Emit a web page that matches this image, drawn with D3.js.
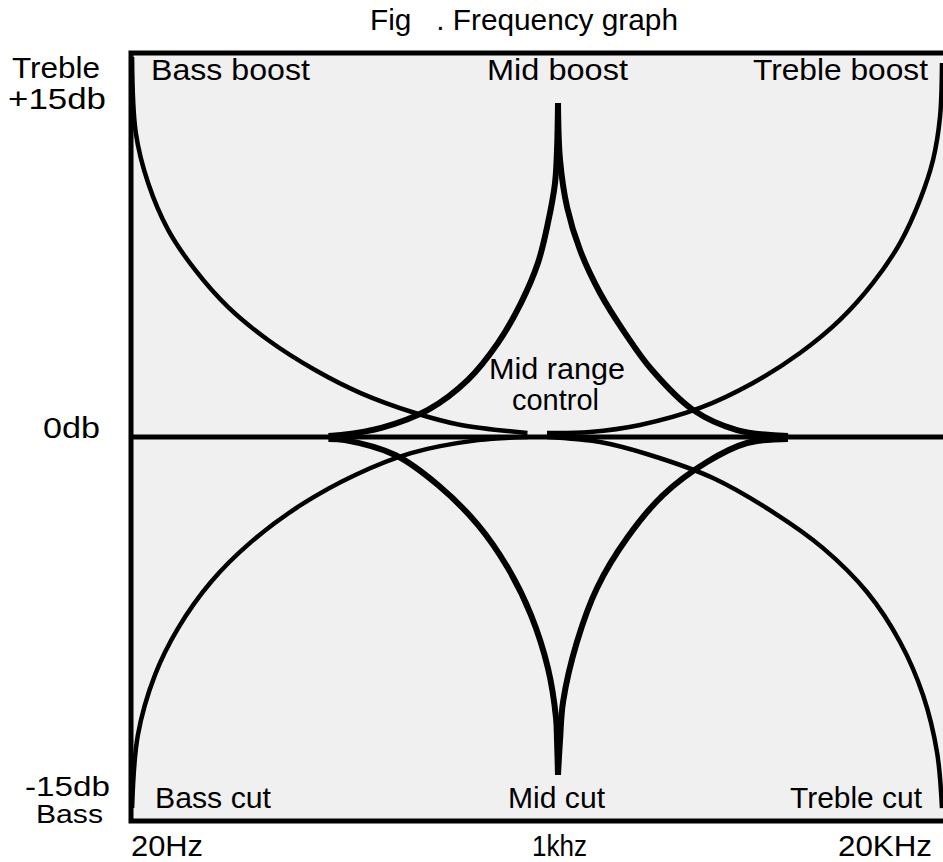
<!DOCTYPE html>
<html>
<head>
<meta charset="utf-8">
<script src="https://cdn.jsdelivr.net/npm/d3@7"></script>
<style>
  body { margin: 0; background: #fff; }
  text { font-family: "Liberation Sans", Arial, sans-serif; font-size: 29px; fill: #000; white-space: pre; }
</style>
</head>
<body>
<div id="chart"></div>
<script>
// axis ends / ticks
const freqTicks = [20, 1000, 20000];
const freqLabels = ["20Hz", "1khz", "20KHz"];

// curves: [frequency Hz, gain dB]
const bassBoost = [[20.2, 15.83], [20.9, 12.67], [23.4, 10.58], [28.1, 8.63], [36, 6.96], [48.6, 5.42],
  [70.2, 4.04], [108, 2.79], [164, 1.83], [270, 1.0], [411, 0.5], [756, 0.17]];
const bassCut = [[20.2, -15.46], [21.3, -12.42], [24.9, -9.92], [30.8, -7.96], [41.6, -6.04], [60, -4.38],
  [94.9, -2.83], [156, -1.58], [260, -0.67], [481, -0.13], [760, 0]];
const trebleBoost = [[904, 0.17], [1283, 0.21], [1893, 0.5], [3018, 1.21], [4558, 2.25], [6573, 3.5],
  [8972, 4.88], [11601, 6.42], [14314, 8.08], [16722, 9.88], [18503, 11.54], [19539, 13.33], [19845, 15.58]];
const trebleCut = [[904, 0], [1387, -0.21], [2046, -0.75], [3340, -1.71], [5325, -3.13], [7865, -4.63],
  [11070, -6.46], [14314, -8.54], [17118, -10.75], [19088, -13.13], [19845, -15.46]];
const midBoostLow = [[122, 0.04], [137, 0.08], [198, 0.38], [304, 1.13], [438, 2.38], [577, 3.92],
  [712, 5.58], [832, 7.25], [912, 8.92], [973, 10.58], [991, 11.96], [1000, 13.92]];
const midBoostHigh = [[1000, 13.92], [1016, 11.54], [1073, 9.58], [1187, 7.79], [1387, 6.0], [1684, 4.33],
  [2078, 2.79], [2859, 1.13], [4026, 0.29], [5988, 0.04]];
const midCutLow = [[122, -0.08], [142, -0.13], [225, -0.75], [333, -2.0], [481, -3.67], [632, -5.46],
  [781, -7.42], [912, -9.63], [982, -11.71], [991, -12.63], [1000, -14.08]];
const midCutHigh = [[1000, -14.08], [1016, -12.63], [1040, -11.04], [1159, -8.54], [1355, -6.29], [1711, -4.21],
  [2264, -2.42], [3188, -1.04], [4352, -0.25], [5988, -0.08]];

const width = 943;
const height = 862;

const svg = d3.select("#chart")
    .append("svg")
    .attr("width", width)
    .attr("height", height);

// piecewise log scale so 1khz sits where the picture has it
const x = d3.scaleLog()
    .domain([20, 1000, 20000])
    .range([131, 558, 943]);
const y = d3.scaleLinear()
    .domain([-15, 15])
    .range([797, 77]);

// plot background
svg.append("rect")
    .attr("x", 131).attr("y", 53)
    .attr("width", 830).attr("height", 768)
    .attr("fill", "#f0f0f0");

const line = d3.line()
    .x(d => x(d[0]))
    .y(d => y(d[1]))
    .curve(d3.curveCatmullRom.alpha(0.5));

// 0db reference line
svg.append("line")
    .attr("x1", x(20)).attr("x2", x(20000))
    .attr("y1", y(0)).attr("y2", y(0))
    .attr("stroke", "#000")
    .attr("stroke-width", 5);

const thin = [bassBoost, bassCut, trebleBoost, trebleCut];
const thick = [midBoostLow, midBoostHigh, midCutLow, midCutHigh];

svg.selectAll("path.thin")
    .data(thin)
    .enter().append("path")
    .attr("class", "thin")
    .attr("d", line)
    .attr("fill", "none")
    .attr("stroke", "#000")
    .attr("stroke-width", 4.5);

svg.selectAll("path.thick")
    .data(thick)
    .enter().append("path")
    .attr("class", "thick")
    .attr("d", line)
    .attr("fill", "none")
    .attr("stroke", "#000")
    .attr("stroke-width", 6);

// frame
svg.append("rect")
    .attr("x", 131).attr("y", 53)
    .attr("width", 830).attr("height", 768)
    .attr("fill", "none")
    .attr("stroke", "#000")
    .attr("stroke-width", 5);

// labels: [text, left x, baseline y, width, font size]
const labels = [
    ["Fig   . Frequency graph", 370, 30, 308, 29],
    ["Treble", 12, 78, 88, 29],
    ["+15db", 8, 109, 98, 29],
    ["Bass boost", 151, 80, 159, 29],
    ["Mid boost", 487, 80, 141, 29],
    ["Treble boost", 753, 80, 175, 29],
    ["Mid range", 489, 379, 136, 29],
    ["control", 512, 410, 87, 29],
    ["0db", 43, 438, 57, 29],
    ["-15db", 25, 796, 85, 27],
    ["Bass", 36, 823, 67, 25],
    ["Bass cut", 155, 808, 116, 29],
    ["Mid cut", 508, 808, 97, 29],
    ["Treble cut", 790, 808, 132, 29]
];

svg.selectAll("text.lbl")
    .data(labels)
    .enter().append("text")
    .attr("class", "lbl")
    .attr("x", d => d[1])
    .attr("y", d => d[2])
    .attr("textLength", d => d[3])
    .attr("lengthAdjust", "spacingAndGlyphs")
    .style("font-size", d => d[4] + "px")
    .text(d => d[0]);

// frequency labels under the frame
const freqWidths = [72, 55, 94];
const freqShift = [0, -26, -105];
svg.selectAll("text.freq")
    .data(freqTicks)
    .enter().append("text")
    .attr("class", "freq")
    .attr("x", (d, i) => x(d) + freqShift[i])
    .attr("y", 856)
    .attr("textLength", (d, i) => freqWidths[i])
    .attr("lengthAdjust", "spacingAndGlyphs")
    .text((d, i) => freqLabels[i]);
</script>
</body>
</html>
